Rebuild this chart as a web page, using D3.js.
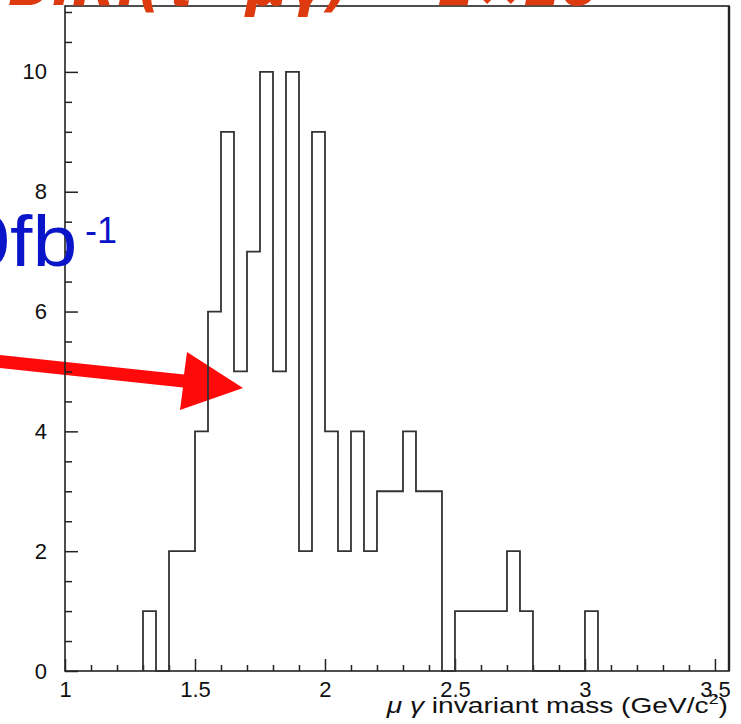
<!DOCTYPE html>
<html>
<head>
<meta charset="utf-8">
<script src="https://cdn.jsdelivr.net/npm/d3@7"></script>
<style>
  html, body { margin: 0; padding: 0; background: #fff; overflow: hidden; }
  svg { display: block; }
  .tick text { font-family: "Liberation Sans", Arial, sans-serif; font-size: 22px; fill: #111; }
</style>
</head>
<body>
<div id="viz"></div>
<script>
// histogram bins (lower edge, width 0.05) and counts
const binLow = [1.30, 1.35, 1.40, 1.45, 1.50, 1.55, 1.60, 1.65, 1.70, 1.75,
                1.80, 1.85, 1.90, 1.95, 2.00, 2.05, 2.10, 2.15, 2.20, 2.25,
                2.30, 2.35, 2.40, 2.45, 2.50, 2.55, 2.60, 2.65, 2.70, 2.75,
                2.80, 2.85, 2.90, 2.95, 3.00];
const counts = [1, 0, 2, 2, 4, 6, 9, 5, 7, 10,
                5, 10, 2, 9, 4, 2, 4, 2, 3, 3,
                4, 3, 3, 0, 1, 1, 1, 1, 2, 1,
                0, 0, 0, 0, 1];
const binWidth = 0.05;

const xMajor = [1, 1.5, 2, 2.5, 3, 3.5];
const xMajorLabels = ["1", "1.5", "2", "2.5", "3", "3.5"];
const xMinor = [1.1, 1.2, 1.3, 1.4, 1.6, 1.7, 1.8, 1.9, 2.1, 2.2, 2.3, 2.4,
                2.6, 2.7, 2.8, 2.9, 3.1, 3.2, 3.3, 3.4];
const yMajor = [0, 2, 4, 6, 8, 10];
const yMinor = [0.5, 1, 1.5, 2.5, 3, 3.5, 4.5, 5, 5.5, 6.5, 7, 7.5,
                8.5, 9, 9.5, 10.5, 11];

const W = 741, H = 724;
const svg = d3.select("#viz")
    .append("svg")
    .attr("width", W)
    .attr("height", H);

const x = d3.scaleLinear().domain([1, 3.554]).range([65, 729]);
const y = d3.scaleLinear().domain([0, 11.1]).range([671, 6]);

// arrow (slide overlay)
svg.append("polygon")
    .attr("points", "0,355 184,374.5 187,352 243,388 180,410 183,387.5 0,368")
    .attr("fill", "#ff0a0a");

// frame
svg.append("rect")
    .attr("x", x(1))
    .attr("y", y(11.1))
    .attr("width", x(3.554) - x(1))
    .attr("height", y(0) - y(11.1))
    .attr("fill", "none")
    .attr("stroke", "#222")
    .attr("stroke-width", 1.6);
svg.append("line")
    .attr("x1", x(3.554)).attr("x2", x(3.554))
    .attr("y1", y(11.1)).attr("y2", y(0))
    .attr("stroke", "#222").attr("stroke-width", 2.4);

// x axis: minor then major ticks (pointing up into the plot)
svg.append("g")
    .attr("transform", `translate(0,${y(0)})`)
    .call(d3.axisBottom(x).tickValues(xMinor).tickSize(-6).tickSizeOuter(0).tickFormat(""))
    .call(g => g.select(".domain").remove())
    .call(g => g.selectAll("line").attr("stroke", "#222").attr("stroke-width", 1.5));

svg.append("g")
    .attr("transform", `translate(0,${y(0)})`)
    .call(d3.axisBottom(x).tickValues(xMajor).tickSize(-12).tickSizeOuter(0)
        .tickPadding(10).tickFormat((d, i) => xMajorLabels[i]))
    .call(g => g.select(".domain").remove())
    .call(g => g.selectAll("line").attr("stroke", "#222").attr("stroke-width", 1.5));

// y axis
svg.append("g")
    .attr("transform", `translate(${x(1)},0)`)
    .call(d3.axisLeft(y).tickValues(yMinor).tickSize(-7).tickSizeOuter(0).tickFormat(""))
    .call(g => g.select(".domain").remove())
    .call(g => g.selectAll("line").attr("stroke", "#222").attr("stroke-width", 1.5));

svg.append("g")
    .attr("transform", `translate(${x(1)},0)`)
    .call(d3.axisLeft(y).tickValues(yMajor).tickSize(-13).tickSizeOuter(0)
        .tickPadding(18).tickFormat(d3.format("d")))
    .call(g => g.select(".domain").remove())
    .call(g => g.selectAll("line").attr("stroke", "#222").attr("stroke-width", 1.5));

// histogram outline
const pts = [[binLow[0], 0]];
binLow.forEach((b, i) => {
    pts.push([b, counts[i]]);
    pts.push([b + binWidth, counts[i]]);
});
pts.push([binLow[binLow.length - 1] + binWidth, 0]);

svg.append("path")
    .datum(pts)
    .attr("fill", "none")
    .attr("stroke", "#333")
    .attr("stroke-width", 1.8)
    .attr("d", d3.line().x(d => x(d[0])).y(d => y(d[1])));

// x title (stretched a bit, as in the scanned plot)
svg.append("text")
    .attr("transform", "translate(728,713) scale(1.28,1)")
    .attr("text-anchor", "end")
    .style("font-family", "\"Liberation Sans\", Arial, sans-serif")
    .style("font-size", "22px")
    .style("fill", "#111")
    .html('<tspan font-style="italic">μ γ</tspan> invariant mass (GeV/c<tspan dy="-9" font-size="14px">2</tspan><tspan dy="9">)</tspan>');

// slide overlays
const blue = g => g
    .style("font-family", "\"Liberation Sans\", Arial, sans-serif")
    .style("fill", "#0a14c8");
svg.append("text")
    .attr("transform", "translate(10,266) scale(1.12,1)")
    .attr("text-anchor", "end")
    .style("font-size", "72px")
    .call(blue)
    .text("10");
svg.append("text")
    .attr("transform", "translate(10,266) scale(1.12,1)")
    .style("font-size", "72px")
    .call(blue)
    .text("fb");
svg.append("text")
    .attr("x", 85)
    .attr("y", 243)
    .style("font-size", "36px")
    .call(blue)
    .text("-1");

svg.append("text")
    .attr("x", 8)
    .attr("y", 5)
    .style("font-family", "\"DejaVu Sans\", sans-serif")
    .style("font-style", "italic")
    .style("font-weight", "bold")
    .style("font-size", "56px")
    .style("fill", "#dd3a10")
    .text("B.R.(τ→μγ) = 1×10⁻⁷");
</script>
</body>
</html>
